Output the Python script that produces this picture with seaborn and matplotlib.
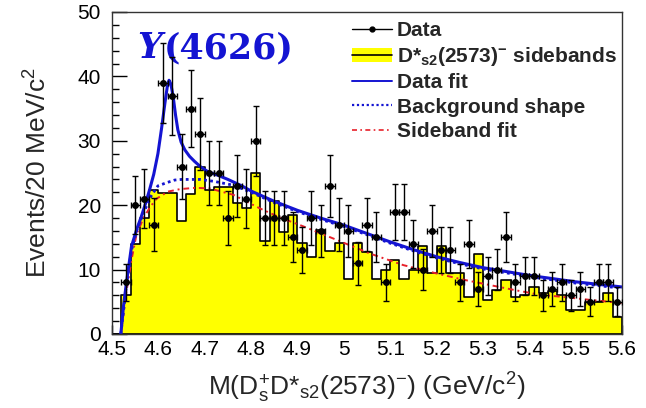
import numpy as np
import pandas as pd
import matplotlib
matplotlib.use("Agg")
import matplotlib.pyplot as plt
import seaborn as sns
from matplotlib.lines import Line2D
from matplotlib.patches import Patch

# ---------------- data ----------------
mass_lo, mass_hi, bin_w = 4.50, 5.60, 0.02
data_counts = [0, 8, 20, 21, 17, 39, 37, 26, 35, 31,
               25, 25, 18, 23, 21, 30, 18, 18, 18, 15,
               13, 18, 16, 23, 17, 16, 11, 17, 15, 8,
               19, 19, 14, 10, 16, 13, 13, 8, 14, 7,
               9, 10, 15, 8, 9, 9, 6, 7, 8, 6,
               7, 5, 8, 8, 5]
sideband_counts = [0, 6, 14, 18, 22.4, 21.9, 21.9, 17.5, 21.8, 26,
                   22.3, 22.9, 22.9, 20.4, 19.5, 25, 14.4, 20.7, 15.9, 18.4,
                   14.1, 12, 16.1, 12.9, 14.1, 8.5, 14.1, 12.8, 8.5, 10,
                   11.5, 8.5, 10, 13.6, 9.4, 13.6, 9.4, 9.4, 5.8, 12.4,
                   5.3, 6.8, 8.4, 5.8, 6.1, 7.3, 6.3, 6.6, 6.1, 3.8,
                   3.8, 5, 5, 6.4, 2.7]

fit_mass = [4.519, 4.525, 4.531, 4.542, 4.553, 4.563, 4.572, 4.581, 4.590, 4.599,
            4.607, 4.614, 4.619, 4.623, 4.627, 4.632, 4.637, 4.642, 4.649, 4.657,
            4.667, 4.678, 4.692, 4.707, 4.73, 4.75, 4.78, 4.80, 4.85, 4.90,
            4.95, 5.00, 5.05, 5.10, 5.15, 5.20, 5.25, 5.30, 5.35, 5.40,
            5.45, 5.50, 5.55, 5.60]
fit_vals = [0, 4.5, 7.9, 13.6, 16.2, 18.2, 20.2, 22.4, 24.8, 28.0,
            32.0, 35.8, 38.3, 39.4, 38.8, 36.8, 34.0, 31.7, 29.8, 28.6,
            27.6, 26.8, 25.9, 25.2, 24.6, 24.0, 23.0, 22.2, 20.6, 19.2,
            18.0, 16.9, 15.6, 14.3, 13.1, 12.0, 11.1, 10.3, 9.7, 9.1,
            8.6, 8.1, 7.7, 7.3]

bkg_mass = [4.519, 4.531, 4.542, 4.553, 4.563, 4.574, 4.585, 4.599, 4.618, 4.635,
            4.65, 4.671, 4.69, 4.72, 4.762, 4.80, 4.85, 4.90, 4.95, 5.00,
            5.05, 5.10, 5.15, 5.20, 5.25, 5.30, 5.35, 5.40, 5.45, 5.50,
            5.55, 5.60]
bkg_vals = [0, 7.5, 13.0, 16.0, 17.9, 19.8, 21.5, 23.0, 23.5, 23.9,
            24.0, 24.0, 24.0, 23.7, 23.1, 22.0, 20.4, 19.0, 17.8, 16.7,
            15.4, 14.1, 12.9, 11.8, 10.9, 10.1, 9.5, 8.9, 8.4, 7.9,
            7.5, 7.1]

sbfit_mass = [4.519, 4.531, 4.542, 4.553, 4.568, 4.582, 4.596, 4.62, 4.647, 4.68,
              4.711, 4.762, 4.819, 4.862, 4.913, 4.985, 5.056, 5.128, 5.2, 5.26,
              5.315, 5.37, 5.423, 5.48, 5.531, 5.6]
sbfit_vals = [0, 6.5, 11.5, 15.5, 18.0, 19.7, 21.0, 22.1, 22.5, 22.7,
              22.6, 21.6, 19.5, 18.1, 16.7, 14.6, 12.5, 10.7, 9.4, 8.4,
              7.6, 6.8, 6.1, 5.7, 5.3, 4.8]

x_ticks = [4.5, 4.6, 4.7, 4.8, 4.9, 5.0, 5.1, 5.2, 5.3, 5.4, 5.5, 5.6]
x_tick_labels = ["4.5", "4.6", "4.7", "4.8", "4.9", "5", "5.1", "5.2", "5.3", "5.4", "5.5", "5.6"]
y_ticks = [0, 10, 20, 30, 40, 50]

# ---------------- style ----------------
sns.set_style("ticks")
plt.rcParams["font.family"] = ["Liberation Sans", "DejaVu Sans"]
plt.rcParams["mathtext.fontset"] = "custom"
plt.rcParams["mathtext.rm"] = "Liberation Sans"
plt.rcParams["mathtext.it"] = "Liberation Sans:italic"
plt.rcParams["mathtext.bf"] = "Liberation Sans:bold"

BLUE = "#1414d2"
RED = "#e8202a"
YELLOW = "#ffff00"

fig = plt.figure(figsize=(6.46, 4.08), dpi=100)
ax = fig.add_axes([0.1734, 0.1814, 0.7895, 0.7892])

n = len(data_counts)
edges = mass_lo + bin_w * np.arange(n + 1)
centers = edges[:-1] + bin_w / 2

sb_df = pd.DataFrame({"mass": centers, "w": sideband_counts})
sns.histplot(data=sb_df, x="mass", weights="w", bins=n, binrange=(mass_lo, mass_hi),
             element="step", fill=True, color=YELLOW, edgecolor="black",
             linewidth=1.2, alpha=1.0, ax=ax, legend=False)

sns.lineplot(x=sbfit_mass, y=sbfit_vals, ax=ax, color=RED, lw=1.4,
             linestyle=(0, (3, 2, 1, 2)), estimator=None, sort=False)
sns.lineplot(x=bkg_mass, y=bkg_vals, ax=ax, color=BLUE, lw=2.0,
             linestyle=(0, (1, 1.2)), estimator=None, sort=False)
sns.lineplot(x=fit_mass, y=fit_vals, ax=ax, color=BLUE, lw=2.2,
             estimator=None, sort=False)

dc = np.array(data_counts, dtype=float)
mask = dc > 0
ax.errorbar(centers[mask], dc[mask], yerr=np.sqrt(dc[mask]), xerr=bin_w / 2,
            fmt="o", color="black", ms=4, elinewidth=1.0, capsize=2, capthick=1.0,
            zorder=5)

ax.set_xlim(mass_lo, mass_hi)
ax.set_ylim(0, 50)
ax.set_xticks(x_ticks)
ax.set_xticklabels(x_tick_labels)
ax.set_xticks(np.arange(4.50, 5.6001, 0.02), minor=True)
ax.set_yticks(y_ticks)
ax.set_yticks(np.arange(0, 50.1, 2), minor=True)
ax.tick_params(axis="both", which="both", direction="in", top=False, right=False,
               labelsize=15, colors="black")
ax.tick_params(axis="y", which="major", length=10.5, width=1.0, pad=8)
ax.tick_params(axis="y", which="minor", length=5, width=1.0)
ax.tick_params(axis="x", which="major", length=6.5, width=1.0, pad=4)
ax.tick_params(axis="x", which="minor", length=3, width=1.0)
for s in ax.spines.values():
    s.set_linewidth(1.0)
    s.set_color("#333333")

ax.set_xlabel(r"M(D$_{\mathrm{s}}^{+}$D*$_{\mathrm{s2}}$(2573)$^{-}$) (GeV/c$^{2}$)",
              fontsize=19)
ax.xaxis.set_label_coords(0.5, -0.113)
ax.set_ylabel(r"Events/20 MeV/c$^{2}$", fontsize=19)
ax.yaxis.set_label_coords(-0.118, 0.5)

# legend
h_data = Line2D([], [], color="black", lw=1.0, marker="o", ms=3.5)
h_sb = (Patch(facecolor=YELLOW, edgecolor="none"), Line2D([], [], color="black", lw=1.2))
h_fit = Line2D([], [], color=BLUE, lw=1.4)
h_bkg = Line2D([], [], color=BLUE, lw=1.6, linestyle=(0, (1, 1.2)))
h_sbf = Line2D([], [], color=RED, lw=1.2, linestyle=(0, (3, 2, 1, 2)))
leg = ax.legend([h_data, h_sb, h_fit, h_bkg, h_sbf],
                ["Data", r"D*$_{\mathbf{s2}}$(2573)$^{\mathbf{-}}$ sidebands", "Data fit",
                 "Background shape", "Sideband fit"],
                loc="upper left", bbox_to_anchor=(352 / 646, 1 - 21 / 408),
                bbox_transform=fig.transFigure, frameon=False,
                prop={"weight": "bold", "size": 15}, handlelength=1.9,
                handletextpad=0.25, labelspacing=0.25, borderpad=0, borderaxespad=0)

# annotation
t1 = ax.text(0.05, 0.888, "Y", transform=ax.transAxes, fontsize=25,
             family="DejaVu Serif", fontweight="bold", fontstyle="italic",
             color=BLUE, va="center", ha="left")
ax.annotate("(4626)", xy=(1.0, 0.5), xycoords=t1, xytext=(1, 0),
            textcoords="offset points", fontsize=25, family="DejaVu Serif",
            fontweight="bold", color=BLUE, va="center", ha="left")

fig.savefig("out.png", dpi=100)
